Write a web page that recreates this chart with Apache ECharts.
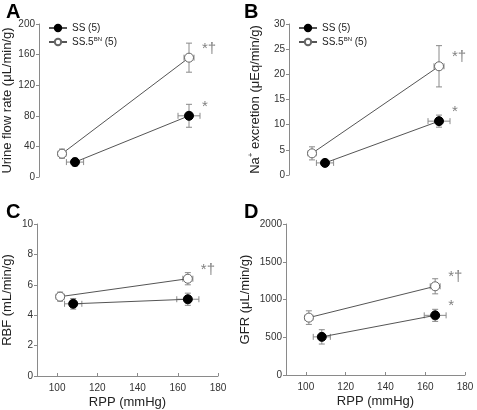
<!DOCTYPE html>
<html><head><meta charset="utf-8">
<script src="https://cdn.jsdelivr.net/npm/echarts@6/dist/echarts.min.js"></script>
<style>html,body{margin:0;padding:0;background:#fff}#c{width:477px;height:410px}</style>
</head><body><div id="c"></div>
<script>
// RPP (x) values, mean and SEM
const rppSS = [108, 165];
const rppSSErr = [4.3, 5.5];
const rppBN = [101.5, 165];
const rppBNErr = [2, 2.5];

// Panel A: Urine flow rate
const ufrSS = [19.5, 80];
const ufrSSErr = [5, 15];
const ufrBN = [30.5, 156];
const ufrBNErr = [6, 19];
// Panel B: Na+ excretion
const naSS = [2.4, 10.7];
const naSSErr = [0.4, 1.2];
const naBN = [4.3, 21.6];
const naBNErr = [1.3, 4.1];
// Panel C: RBF
const rbfSS = [4.75, 5.05];
const rbfSSErr = [0.35, 0.4];
const rbfBN = [5.22, 6.4];
const rbfBNErr = [0.3, 0.4];
// Panel D: GFR
const gfrSS = [505, 790];
const gfrSSErr = [95, 80];
const gfrBN = [760, 1175];
const gfrBNErr = [90, 100];

const xTicks = [100, 120, 140, 160, 180];
const nameSS = 'SS (5)';
const nameBN = 'SS.5BN (5)';

const FONT = 'Liberation Sans, Arial, sans-serif';
const AX = '#8a8a8a';

const panels = [
  {ss: ufrSS, ssE: ufrSSErr, bn: ufrBN, bnE: ufrBNErr, star: ['*', '*†'], y: [0, 200, 40],
   name: 'Urine flow rate (μL/min/g)', gap: 25, grid: {left: 39, top: 24, width: 180, height: 153}, showX: false, legend: true},
  {ss: naSS, ssE: naSSErr, bn: naBN, bnE: naBNErr, star: ['*', '*†'], y: [0, 30, 5],
   name: 'Na{sup|+} excretion (μEq/min/g)', gap: 26, grid: {left: 289, top: 24, width: 180, height: 151}, showX: false, legend: true},
  {ss: rbfSS, ssE: rbfSSErr, bn: rbfBN, bnE: rbfBNErr, star: ['', '*†'], y: [0, 10, 2],
   name: 'RBF (mL/min/g)', gap: 23, grid: {left: 37, top: 224, width: 181, height: 152}, showX: true},
  {ss: gfrSS, ssE: gfrSSErr, bn: gfrBN, bnE: gfrBNErr, star: ['*', '*†'], y: [0, 2000, 500],
   name: 'GFR (μL/min/g)', gap: 34, grid: {left: 286, top: 224, width: 179, height: 151}, showX: true}
];

function errRender(params, api) {
  const x = api.value(0), y = api.value(1), xe = api.value(2), ye = api.value(3);
  const c = api.coord([x, y]);
  const t = api.coord([x, y + ye]), b = api.coord([x, y - ye]);
  const l = api.coord([x - xe, y]), r = api.coord([x + xe, y]);
  const st = {stroke: AX, lineWidth: 1};
  const cap = 3;
  return {type: 'group', children: [
    {type: 'line', shape: {x1: c[0], y1: t[1], x2: c[0], y2: b[1]}, style: st},
    {type: 'line', shape: {x1: c[0] - cap, y1: t[1], x2: c[0] + cap, y2: t[1]}, style: st},
    {type: 'line', shape: {x1: c[0] - cap, y1: b[1], x2: c[0] + cap, y2: b[1]}, style: st},
    {type: 'line', shape: {x1: l[0], y1: c[1], x2: r[0], y2: c[1]}, style: st},
    {type: 'line', shape: {x1: l[0], y1: c[1] - cap, x2: l[0], y2: c[1] + cap}, style: st},
    {type: 'line', shape: {x1: r[0], y1: c[1] - cap, x2: r[0], y2: c[1] + cap}, style: st}
  ]};
}

const grids = [], xAxes = [], yAxes = [], series = [], legends = [];
panels.forEach((p, i) => {
  grids.push(p.grid);
  xAxes.push({
    type: 'value', gridIndex: i, min: 90, max: 180, show: p.showX,
    splitLine: {show: false},
    axisLine: {show: true, lineStyle: {color: AX}},
    axisTick: {show: true, inside: true, length: 3, customValues: xTicks, lineStyle: {color: AX}},
    axisLabel: {customValues: xTicks, fontSize: 10, color: '#333', fontFamily: FONT, margin: 7},
    name: 'RPP (mmHg)', nameLocation: 'middle', nameGap: 20,
    nameTextStyle: {fontSize: 13, color: '#222', fontFamily: FONT}
  });
  yAxes.push({
    type: 'value', gridIndex: i, min: p.y[0], max: p.y[1], interval: p.y[2],
    splitLine: {show: false},
    axisLine: {show: true, lineStyle: {color: AX}},
    axisTick: {show: true, length: 3, lineStyle: {color: AX}},
    axisLabel: {fontSize: 10, color: '#333', fontFamily: FONT, margin: 4, formatter: v => String(v)},
    name: p.name, nameLocation: 'middle', nameGap: p.gap,
    nameTextStyle: {fontSize: 13, color: '#222', fontFamily: FONT,
      rich: {sup: {fontSize: 8, verticalAlign: 'top', padding: [0, 0, 8, 0], fontFamily: FONT, color: '#222'}}}
  });
  const mk = (xs, ys, star) => xs.map((x, j) => {
    const d = {value: [x, ys[j]]};
    if (j === xs.length - 1 && star) {
      d.label = {show: true, formatter: star, position: 'right', offset: [3, -9],
        fontSize: 15, color: '#808080', fontFamily: FONT};
    }
    return d;
  });
  series.push({type: 'custom', xAxisIndex: i, yAxisIndex: i, renderItem: errRender, z: 1, silent: true,
    data: rppSS.map((x, j) => [x, p.ss[j], rppSSErr[j], p.ssE[j]])});
  series.push({type: 'custom', xAxisIndex: i, yAxisIndex: i, renderItem: errRender, z: 1, silent: true,
    data: rppBN.map((x, j) => [x, p.bn[j], rppBNErr[j], p.bnE[j]])});
  series.push({name: nameSS, type: 'line', xAxisIndex: i, yAxisIndex: i, z: 3,
    symbol: 'circle', symbolSize: 9, showAllSymbol: true,
    itemStyle: {color: '#000', borderColor: '#000', borderWidth: 1},
    lineStyle: {color: '#555', width: 1}, data: mk(rppSS, p.ss, p.star[0])});
  series.push({name: nameBN, type: 'line', xAxisIndex: i, yAxisIndex: i, z: 3,
    symbol: 'circle', symbolSize: 9, showAllSymbol: true,
    itemStyle: {color: '#fff', borderColor: '#666', borderWidth: 1},
    lineStyle: {color: '#555', width: 1}, data: mk(rppBN, p.bn, p.star[1])});
  if (p.legend) {
    legends.push({
      left: p.grid.left + 4, top: p.grid.top - 6, orient: 'vertical', itemGap: 3,
      itemWidth: 18, itemHeight: 8, data: [nameSS, nameBN],
      formatter: n => n === nameBN ? '{a|SS.5}{s|BN}{a| (5)}' : '{a|' + n + '}',
      textStyle: {fontSize: 10, color: '#222', fontFamily: FONT,
        rich: {a: {fontSize: 10, fontFamily: FONT, color: '#222'},
               s: {fontSize: 6, fontFamily: FONT, color: '#222', verticalAlign: 'top', padding: [0, 0, 6, 0]}}}
    });
  }
});

const letters = [['A', 6, 2], ['B', 244, 2], ['C', 6, 202], ['D', 244, 202]];
const chart = echarts.init(document.getElementById('c'), null, {renderer: 'canvas'});
chart.setOption({
  animation: false,
  backgroundColor: '#fff',
  grid: grids, xAxis: xAxes, yAxis: yAxes, series: series, legend: legends,
  graphic: letters.map(l => ({type: 'text', left: l[1], top: l[2],
    style: {text: l[0], fontSize: 20, fontWeight: 'bold', fill: '#000', font: 'bold 20px ' + FONT}}))
});
</script></body></html>
